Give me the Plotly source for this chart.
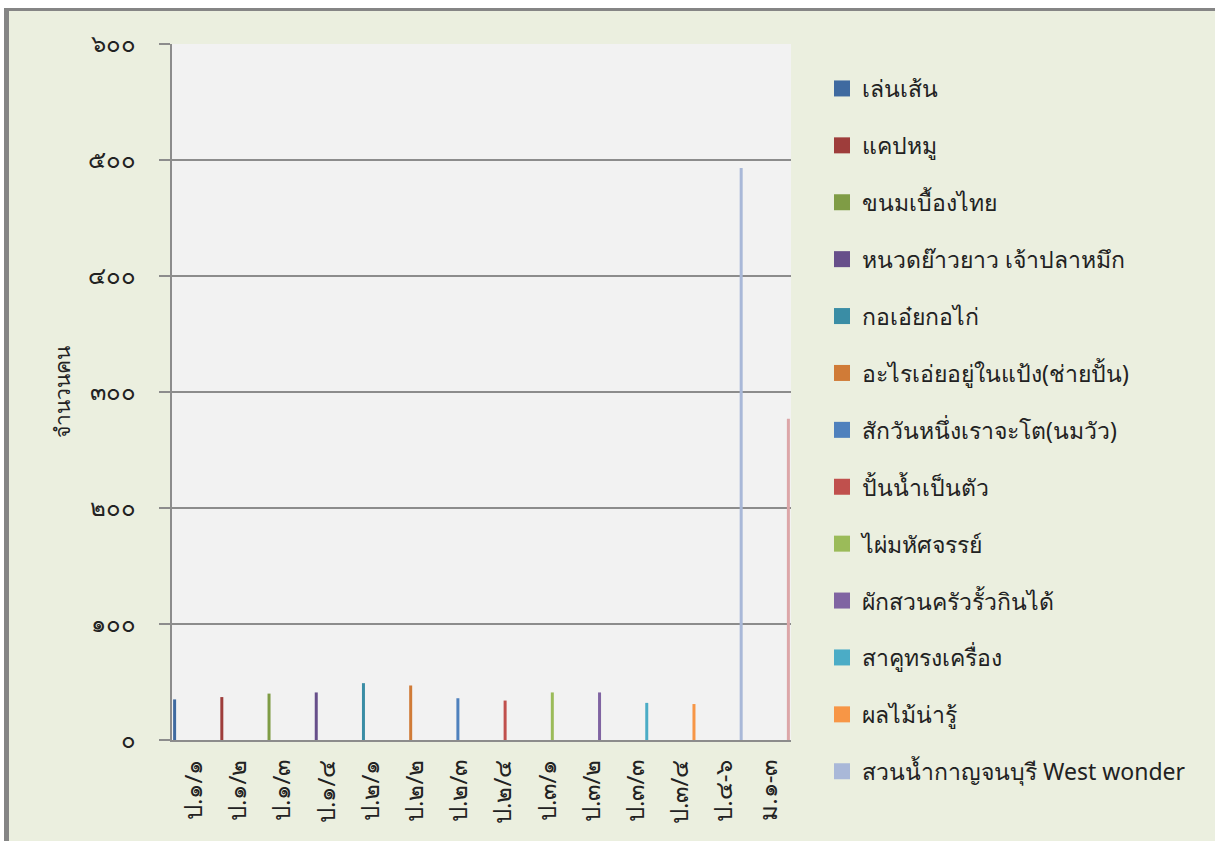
import plotly.graph_objects as go

categories = ["ป.๑/๑", "ป.๑/๒", "ป.๑/๓", "ป.๑/๔", "ป.๒/๑", "ป.๒/๒", "ป.๒/๓",
              "ป.๒/๔", "ป.๓/๑", "ป.๓/๒", "ป.๓/๓", "ป.๓/๔", "ป.๔-๖", "ม.๑-๓"]
series_names = ["เล่นเส้น", "แคปหมู", "ขนมเบื้องไทย", "หนวดย๊าวยาว เจ้าปลาหมึก",
                "กอเอ๋ยกอไก่", "อะไรเอ่ยอยู่ในแป้ง(ช่ายปั้น)", "สักวันหนึ่งเราจะโต(นมวัว)",
                "ปั้นน้ำเป็นตัว", "ไผ่มหัศจรรย์", "ผักสวนครัวรั้วกินได้", "สาคูทรงเครื่อง",
                "ผลไม้น่ารู้", "สวนน้ำกาญจนบุรี West wonder", "ม.๑-๓"]
values = [35, 37, 40, 41, 49, 47, 36, 34, 41, 41, 32, 31, 493, 277]
colors = ["#3F6AA0", "#9E3D3B", "#7F9C45", "#674F8A", "#3A8DA5", "#D07B37",
          "#4F81BD", "#C0504D", "#9BBB59", "#8064A2", "#4BACC6", "#F79646",
          "#A9B8D8", "#DCA6A8"]
ytick_vals = [0, 100, 200, 300, 400, 500, 600]
ytick_text = ["๐", "๑๐๐", "๒๐๐", "๓๐๐", "๔๐๐", "๕๐๐", "๖๐๐"]
y_title = "จำนวนคน"

FONT = "Noto Sans, DejaVu Sans, sans-serif"
W, H = 1215, 841
L, R, T, B = 172, 424, 44, 101
PW, PH = W - L - R, H - T - B
N_LEGEND = 13


def xp(px):
    return (px - L) / PW


def yp(py):
    return (H - B - py) / PH


fig = go.Figure()
for i, name in enumerate(series_names):
    y = [values[i] if j == i else None for j in range(len(categories))]
    fig.add_trace(go.Bar(
        x=categories, y=y, name=name, marker_color=colors[i],
        marker_line_width=0, legendgroup=f"g{i}", showlegend=False,
    ))
    if i < N_LEGEND:
        # legend entry with a larger square swatch
        fig.add_trace(go.Scatter(
            x=[None], y=[None], name=name, mode="markers",
            marker=dict(symbol="square", size=16, color=colors[i], line_width=0),
            legendgroup=f"g{i}", showlegend=True, hoverinfo="skip",
        ))

shapes = [
    dict(type="rect", xref="paper", yref="paper", x0=xp(-5), x1=xp(4), y0=yp(-5), y1=yp(H + 5),
         fillcolor="white", line_width=0, layer="above"),
    dict(type="rect", xref="paper", yref="paper", x0=xp(-5), x1=xp(W + 5), y0=yp(-5), y1=yp(8),
         fillcolor="white", line_width=0, layer="above"),
    dict(type="rect", xref="paper", yref="paper", x0=xp(4), x1=xp(9), y0=yp(8), y1=yp(H + 5),
         fillcolor="#858585", line_width=0, layer="above"),
    dict(type="rect", xref="paper", yref="paper", x0=xp(4), x1=xp(W + 5), y0=yp(8), y1=yp(11),
         fillcolor="#858585", line_width=0, layer="above"),
]

fig.update_layout(
    width=W, height=H,
    margin=dict(l=L, r=R, t=T, b=B, autoexpand=False),
    paper_bgcolor="#EBEFDF", plot_bgcolor="#F2F2F2",
    barmode="group", bargap=0.05, bargroupgap=0,
    font=dict(family=FONT, size=22, color="#222222"),
    showlegend=True,
    legend=dict(x=xp(822), xanchor="left", y=yp(67), yanchor="top",
                traceorder="grouped", tracegroupgap=24, maxheight=830,
                itemsizing="trace",
                font=dict(family=FONT, size=23, color="#222222"),
                bgcolor="rgba(0,0,0,0)"),
    shapes=shapes,
)
fig.update_xaxes(
    type="category", categoryorder="array", categoryarray=categories,
    tickangle=-90, showgrid=False,
    showline=True, linecolor="#8C8C8C", linewidth=2,
    ticks="", tickfont=dict(family=FONT, size=24, color="#222222"),
    ticklabelstandoff=8,
)
fig.update_yaxes(
    range=[0, 600], tickvals=ytick_vals, ticktext=ytick_text,
    showgrid=True, gridcolor="#8C8C8C", gridwidth=2,
    showline=True, linecolor="#8C8C8C", linewidth=2,
    ticks="outside", ticklen=11, tickcolor="#8C8C8C", tickwidth=2,
    tickfont=dict(family=FONT, size=24, color="#222222"),
    ticklabelstandoff=18, zeroline=False,
    title=dict(text=y_title, font=dict(family=FONT, size=21, color="#222222"), standoff=12),
)

fig.write_html("out.html", config={"displayModeBar": False},
               post_script="document.body.style.margin='0';document.body.style.overflow='hidden';")
